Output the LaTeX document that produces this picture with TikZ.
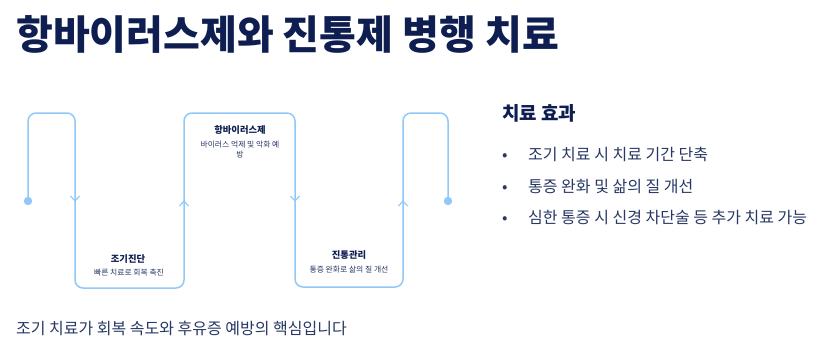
\documentclass[tikz,border=0pt]{standalone}
\usepackage{fontspec}
\setmainfont{Noto Sans CJK KR}
\usepackage{xcolor}
\usepackage{tikz}
\usetikzlibrary{arrows.meta}
\definecolor{TxNavy}{RGB}{14,30,80}
\definecolor{TxBody}{RGB}{40,55,100}
\definecolor{LnBlue}{RGB}{144,200,248}

\begin{document}
\begin{tikzpicture}[x=1pt, y=-1pt,
      ttl/.style={anchor=base west, inner sep=0pt, font=\fontsize{40}{46}\selectfont\bfseries, text=TxNavy},
      hdr/.style={anchor=base west, inner sep=0pt, font=\fontsize{19}{22}\selectfont\bfseries, text=TxNavy},
      itm/.style={anchor=base west, inner sep=0pt, font=\fontsize{16}{19}\selectfont, text=TxBody},
      stage/.style={anchor=base, inner sep=0pt, font=\fontsize{9.3}{11}\selectfont\bfseries, text=TxNavy},
      sub/.style={anchor=base, inner sep=0pt, align=center, font=\fontsize{7.8}{9.5}\selectfont, text=TxBody},
      wave/.style={draw=LnBlue, line width=1.5pt, rounded corners=8pt},
      chev/.style={draw=LnBlue, line width=1.1pt}
    ]
    \useasboundingbox (0,0) rectangle (826,349);

    \node[ttl] (title) at (16,49) {항바이러스제와 진통제 병행 치료};

    % the wave line
    \draw[wave] (28,201) -- (28,113) -- (75,113) -- (75,288) -- (184,288)
                -- (184,113) -- (295,113) -- (295,287) -- (403,287)
                -- (403,113) -- (448,113) -- (448,201);
    \fill[LnBlue] (28,201) circle (4.2);
    \fill[LnBlue] (448,201) circle (4.2);

    \foreach \x/\d in {75/1, 184/-1, 295/1, 403/-1}{
      \draw[chev] (\x-4.5,201-5*\d) -- (\x,201) -- (\x+4.5,201-5*\d);
    }

    \node[stage] (s1)  at (128,262.5) {조기진단};
    \node[sub]   (s1t) at (129,275)   {빠른 치료로 회복 촉진};
    \node[stage] (s2)  at (240,133.5) {항바이러스제};
    \node[sub]   (s2t) at (240,157)   {바이러스 억제 및 악화 예\\방};
    \node[stage] (s3)  at (349,258.5) {진통관리};
    \node[sub]   (s3t) at (349,272)   {통증 완화로 삶의 질 개선};

    \node[hdr] (eff) at (502,120) {치료 효과};
    \foreach \y/\t in {160/조기 치료 시 치료 기간 단축,
                       192/통증 완화 및 삶의 질 개선,
                       223/심한 통증 시 신경 차단술 등 추가 치료 가능}{
      \node[itm] at (502,\y) {•};
      \node[itm] at (528,\y) {\t};
    }

    \node[itm] (note) at (16,334)
          {조기 치료가 회복 속도와 후유증 예방의 핵심입니다};
  \end{tikzpicture}
\end{document}
